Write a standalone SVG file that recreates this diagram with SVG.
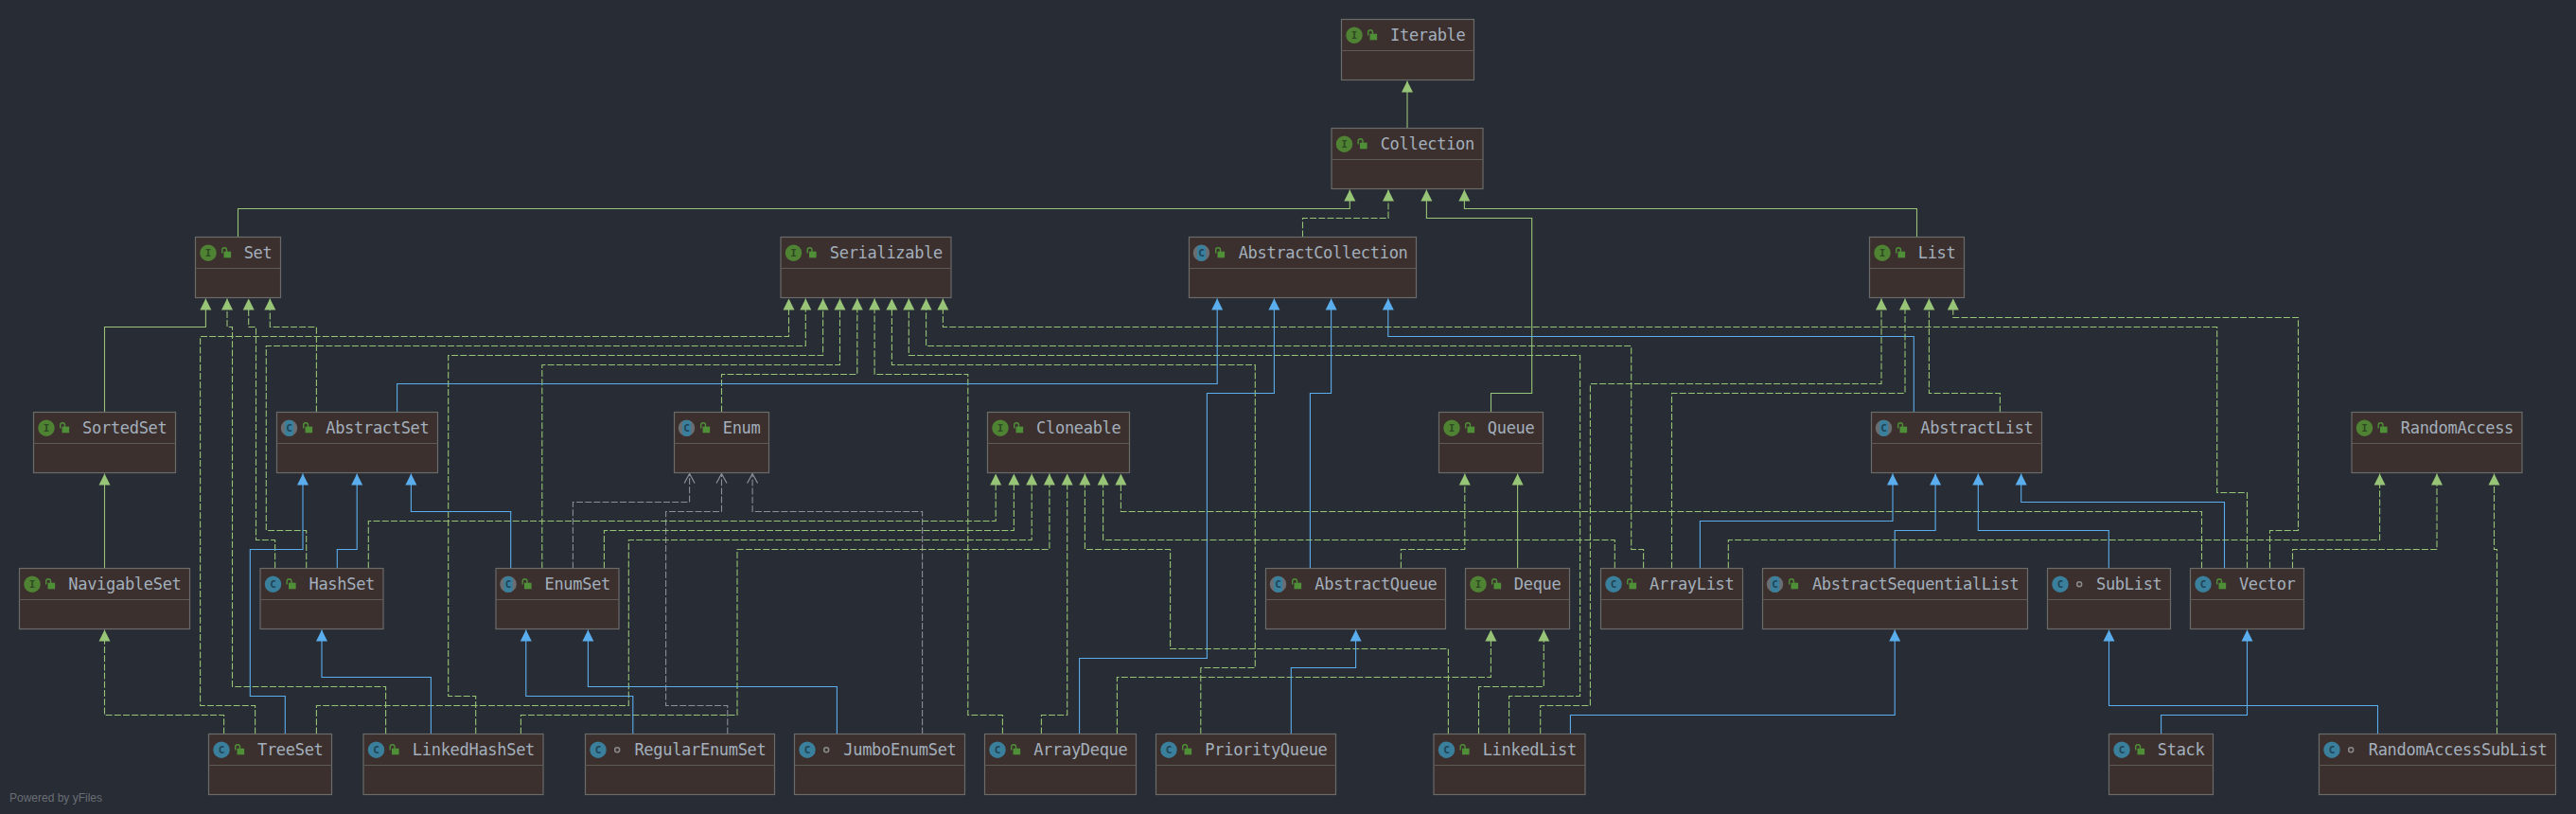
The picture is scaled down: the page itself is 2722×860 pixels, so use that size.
<svg xmlns="http://www.w3.org/2000/svg" width="2722" height="860" viewBox="0 0 2722 860">
<style>
.n{fill:#3b302e;stroke:#6b6b69;stroke-width:1.2}
.l{stroke:#5e5a58;stroke-width:1.2}
.t{font:17px "DejaVu Sans Mono",monospace;letter-spacing:-.3px;fill:#a3afbc;text-anchor:end}
.k{font:bold 11px "DejaVu Sans Mono",monospace;text-anchor:middle}
.ki{fill:#2d4a22}
.kc{fill:#1f4456}
.ci{fill:#4f8333}
.cc{fill:#3a7f9c}
.ca{fill:#6a6e72}
.lk{fill:#4f8f37}
.sh{fill:none;stroke:#4f8f37;stroke-width:1.4}
.dot{fill:none;stroke:#8a8a8a;stroke-width:1.5}
#c path{fill:none;stroke-width:1.1}
#c .s{stroke:#97c476;marker-end:url(#ag)}
#c .d{stroke:#97c476;stroke-dasharray:7 2.2;marker-end:url(#ag)}
#c .b{stroke:#5baeee;marker-end:url(#ab)}
#c .g{stroke:#8a8f98;stroke-dasharray:7 2.2;marker-end:url(#ao)}
.y{font:12px "Liberation Sans",sans-serif;fill:#6a6e74}
</style>
<defs>
<marker id="ag" markerUnits="userSpaceOnUse" markerWidth="13" markerHeight="13" refX="12" refY="6" orient="auto" overflow="visible"><path d="M0 0L12 6L0 12z" fill="#97c476"/></marker>
<marker id="ab" markerUnits="userSpaceOnUse" markerWidth="13" markerHeight="13" refX="12" refY="6" orient="auto" overflow="visible"><path d="M0 0L12 6L0 12z" fill="#5baeee"/></marker>
<marker id="ao" markerUnits="userSpaceOnUse" markerWidth="13" markerHeight="13" refX="11" refY="6" orient="auto" overflow="visible"><path d="M1 0.5L11 6L1 11.5" fill="none" stroke="#8a8f98" stroke-width="1.2"/></marker>
<g id="pub"><rect class="lk" x="30" y="15.2" width="7.6" height="6.6"/><path class="sh" d="M28.2 17V13.6a2.4 2.4 0 0 1 4.8 0V15.5"/></g>
<circle id="pkg" class="dot" cx="33.7" cy="16.7" r="2.5"/>
<circle id="ii" class="ci" cx="13.5" cy="16.7" r="8.7"/>
<circle id="ic" class="cc" cx="13.5" cy="16.7" r="8.7"/>
<g id="ia"><circle class="ca" cx="13" cy="16.7" r="8.7"/><rect x="8.4" y="8.4" width="9.4" height="16.8" rx="3.5" class="cc"/></g>
</defs>
<rect width="2722" height="860" fill="#282c35"/>
<g id="c">
<path class="s" d="M1487 135.5V85.5"/>
<path class="s" d="M110.5 435.5V345.5H217.4V315.5"/>
<path class="d" d="M407.6 775.5V725.5H245.5V345.5H240V315.5"/>
<path class="d" d="M290.6 600.5V570.5H270.5V345.5H262.7V315.5"/>
<path class="d" d="M334.4 435.5V345.5H285.3V315.5"/>
<path class="s" d="M251.5 250.5V220.5H1426.3V200.5"/>
<path class="d" d="M1376.5 250.5V230.5H1467V200.5"/>
<path class="s" d="M1575.5 435.5V415.5H1618.7V230.5H1507.4V200.5"/>
<path class="s" d="M2025.5 250.5V220.5H1547.4V200.5"/>
<path class="d" d="M269.6 775.5V745.5H211.6V355.5H833.5V315.5"/>
<path class="d" d="M323.7 600.5V560.5H281.3V365.5H851.3V315.5"/>
<path class="d" d="M502.7 775.5V735.5H473.7V375.5H869.6V315.5"/>
<path class="d" d="M572.8 600.5V385.5H887.5V315.5"/>
<path class="d" d="M762.5 435.5V395.5H905.8V315.5"/>
<path class="d" d="M1059.4 775.5V755.5H1022.8V395.5H924.1V315.5"/>
<path class="d" d="M1268.8 775.5V705.5H1326.3V385.5H942.4V315.5"/>
<path class="d" d="M1594.6 775.5V735.5H1669.6V375.5H960.3V315.5"/>
<path class="d" d="M1736.6 600.5V580.5H1723.7V365.5H978.6V315.5"/>
<path class="d" d="M2374.5 600.5V520.5H2342.7V345.5H996.4V315.5"/>
<path class="b" d="M419.6 435.5V405.5H1286.2V315.5"/>
<path class="b" d="M1140.6 775.5V695.5H1275.4V415.5H1346.4V315.5"/>
<path class="b" d="M1384.4 600.5V415.5H1406.6V315.5"/>
<path class="b" d="M2022.3 435.5V355.5H1466.8V315.5"/>
<path class="d" d="M1627.7 775.5V745.5H1680.4V405.5H1988V315.5"/>
<path class="d" d="M1766.5 600.5V415.5H2013V315.5"/>
<path class="d" d="M2113.4 435.5V415.5H2038.4V315.5"/>
<path class="d" d="M2398.5 600.5V560.5H2428.5V335.5H2063.8V315.5"/>
<path class="g" d="M768.8 775.5V745.5H703.6V540.5H762.5V500.5"/>
<path class="g" d="M974.6 775.5V540.5H795.1V500.5"/>
<path class="g" d="M605.4 600.5V530.5H728.6V500.5"/>
<path class="d" d="M389.3 600.5V550.5H1052.2V500.5"/>
<path class="d" d="M638.4 600.5V560.5H1071.4V500.5"/>
<path class="d" d="M334.4 775.5V745.5H664.3V570.5H1090.2V500.5"/>
<path class="d" d="M550.4 775.5V755.5H779V580.5H1108.9V500.5"/>
<path class="d" d="M1100.4 775.5V755.5H1127.7V500.5"/>
<path class="d" d="M1530.4 775.5V685.5H1236.6V580.5H1146.4V500.5"/>
<path class="d" d="M1706.3 600.5V570.5H1165.6V500.5"/>
<path class="d" d="M2326.5 600.5V540.5H1184.4V500.5"/>
<path class="d" d="M1480.4 600.5V580.5H1547.8V500.5"/>
<path class="s" d="M1603.6 600.5V500.5"/>
<path class="d" d="M1180.4 775.5V715.5H1575.4V665.5"/>
<path class="d" d="M1562.5 775.5V725.5H1631.3V665.5"/>
<path class="b" d="M1364.3 775.5V705.5H1432.6V665.5"/>
<path class="b" d="M301.3 775.5V735.5H264.3V580.5H320V500.5"/>
<path class="b" d="M356.3 600.5V580.5H377.2V500.5"/>
<path class="b" d="M539.7 600.5V540.5H434.4V500.5"/>
<path class="b" d="M455.4 775.5V715.5H340V665.5"/>
<path class="d" d="M236.6 775.5V755.5H110.5V665.5"/>
<path class="s" d="M110.5 600.5V500.5"/>
<path class="b" d="M668.8 775.5V735.5H555.8V665.5"/>
<path class="b" d="M884.4 775.5V725.5H621.4V665.5"/>
<path class="b" d="M1796.4 600.5V550.5H2000V500.5"/>
<path class="b" d="M2002.2 600.5V560.5H2045.1V500.5"/>
<path class="b" d="M2228.3 600.5V560.5H2090.3V500.5"/>
<path class="b" d="M2350.5 600.5V530.5H2135.7V500.5"/>
<path class="d" d="M1826.3 600.5V570.5H2514.6V500.5"/>
<path class="d" d="M2422.5 600.5V580.5H2575V500.5"/>
<path class="d" d="M2638.5 775.5V580.5H2635.5V500.5"/>
<path class="b" d="M1659.4 775.5V755.5H2002.2V665.5"/>
<path class="b" d="M2512.5 775.5V745.5H2228.5V665.5"/>
<path class="b" d="M2283.6 775.5V755.5H2374.5V665.5"/>
</g>
<g id="Iterable" transform="translate(1417.5 20.5)"><rect class="n" width="140" height="64"/><line class="l" x2="140" y1="33" y2="33"/><use href="#ii"/><text class="k ki" x="13.5" y="20.6">I</text><use href="#pub"/><text class="t" x="131" y="22.5">Iterable</text></g>
<g id="Collection" transform="translate(1407 135.5)"><rect class="n" width="160" height="64"/><line class="l" x2="160" y1="33" y2="33"/><use href="#ii"/><text class="k ki" x="13.5" y="20.6">I</text><use href="#pub"/><text class="t" x="151" y="22.5">Collection</text></g>
<g id="Set" transform="translate(206.5 250.5)"><rect class="n" width="90" height="64"/><line class="l" x2="90" y1="33" y2="33"/><use href="#ii"/><text class="k ki" x="13.5" y="20.6">I</text><use href="#pub"/><text class="t" x="81" y="22.5">Set</text></g>
<g id="Serializable" transform="translate(825 250.5)"><rect class="n" width="180" height="64"/><line class="l" x2="180" y1="33" y2="33"/><use href="#ii"/><text class="k ki" x="13.5" y="20.6">I</text><use href="#pub"/><text class="t" x="171" y="22.5">Serializable</text></g>
<g id="AbstractCollection" transform="translate(1256.5 250.5)"><rect class="n" width="240" height="64"/><line class="l" x2="240" y1="33" y2="33"/><use href="#ia"/><text class="k kc" x="13" y="20.6">C</text><use href="#pub"/><text class="t" x="231" y="22.5">AbstractCollection</text></g>
<g id="List" transform="translate(1975.5 250.5)"><rect class="n" width="100" height="64"/><line class="l" x2="100" y1="33" y2="33"/><use href="#ii"/><text class="k ki" x="13.5" y="20.6">I</text><use href="#pub"/><text class="t" x="91" y="22.5">List</text></g>
<g id="SortedSet" transform="translate(35.5 435.5)"><rect class="n" width="150" height="64"/><line class="l" x2="150" y1="33" y2="33"/><use href="#ii"/><text class="k ki" x="13.5" y="20.6">I</text><use href="#pub"/><text class="t" x="141" y="22.5">SortedSet</text></g>
<g id="AbstractSet" transform="translate(292.5 435.5)"><rect class="n" width="170" height="64"/><line class="l" x2="170" y1="33" y2="33"/><use href="#ia"/><text class="k kc" x="13" y="20.6">C</text><use href="#pub"/><text class="t" x="161" y="22.5">AbstractSet</text></g>
<g id="Enum" transform="translate(712.5 435.5)"><rect class="n" width="100" height="64"/><line class="l" x2="100" y1="33" y2="33"/><use href="#ia"/><text class="k kc" x="13" y="20.6">C</text><use href="#pub"/><text class="t" x="91" y="22.5">Enum</text></g>
<g id="Cloneable" transform="translate(1043.5 435.5)"><rect class="n" width="150" height="64"/><line class="l" x2="150" y1="33" y2="33"/><use href="#ii"/><text class="k ki" x="13.5" y="20.6">I</text><use href="#pub"/><text class="t" x="141" y="22.5">Cloneable</text></g>
<g id="Queue" transform="translate(1520.5 435.5)"><rect class="n" width="110" height="64"/><line class="l" x2="110" y1="33" y2="33"/><use href="#ii"/><text class="k ki" x="13.5" y="20.6">I</text><use href="#pub"/><text class="t" x="101" y="22.5">Queue</text></g>
<g id="AbstractList" transform="translate(1977.5 435.5)"><rect class="n" width="180" height="64"/><line class="l" x2="180" y1="33" y2="33"/><use href="#ia"/><text class="k kc" x="13" y="20.6">C</text><use href="#pub"/><text class="t" x="171" y="22.5">AbstractList</text></g>
<g id="RandomAccess" transform="translate(2485 435.5)"><rect class="n" width="180" height="64"/><line class="l" x2="180" y1="33" y2="33"/><use href="#ii"/><text class="k ki" x="13.5" y="20.6">I</text><use href="#pub"/><text class="t" x="171" y="22.5">RandomAccess</text></g>
<g id="NavigableSet" transform="translate(20.5 600.5)"><rect class="n" width="180" height="64"/><line class="l" x2="180" y1="33" y2="33"/><use href="#ii"/><text class="k ki" x="13.5" y="20.6">I</text><use href="#pub"/><text class="t" x="171" y="22.5">NavigableSet</text></g>
<g id="HashSet" transform="translate(275 600.5)"><rect class="n" width="130" height="64"/><line class="l" x2="130" y1="33" y2="33"/><use href="#ic"/><text class="k kc" x="13.5" y="20.6">C</text><use href="#pub"/><text class="t" x="121" y="22.5">HashSet</text></g>
<g id="EnumSet" transform="translate(524 600.5)"><rect class="n" width="130" height="64"/><line class="l" x2="130" y1="33" y2="33"/><use href="#ia"/><text class="k kc" x="13" y="20.6">C</text><use href="#pub"/><text class="t" x="121" y="22.5">EnumSet</text></g>
<g id="AbstractQueue" transform="translate(1337.5 600.5)"><rect class="n" width="190" height="64"/><line class="l" x2="190" y1="33" y2="33"/><use href="#ia"/><text class="k kc" x="13" y="20.6">C</text><use href="#pub"/><text class="t" x="181" y="22.5">AbstractQueue</text></g>
<g id="Deque" transform="translate(1548.5 600.5)"><rect class="n" width="110" height="64"/><line class="l" x2="110" y1="33" y2="33"/><use href="#ii"/><text class="k ki" x="13.5" y="20.6">I</text><use href="#pub"/><text class="t" x="101" y="22.5">Deque</text></g>
<g id="ArrayList" transform="translate(1691.5 600.5)"><rect class="n" width="150" height="64"/><line class="l" x2="150" y1="33" y2="33"/><use href="#ic"/><text class="k kc" x="13.5" y="20.6">C</text><use href="#pub"/><text class="t" x="141" y="22.5">ArrayList</text></g>
<g id="AbstractSequentialList" transform="translate(1862.5 600.5)"><rect class="n" width="280" height="64"/><line class="l" x2="280" y1="33" y2="33"/><use href="#ia"/><text class="k kc" x="13" y="20.6">C</text><use href="#pub"/><text class="t" x="271" y="22.5">AbstractSequentialList</text></g>
<g id="SubList" transform="translate(2163.5 600.5)"><rect class="n" width="130" height="64"/><line class="l" x2="130" y1="33" y2="33"/><use href="#ic"/><text class="k kc" x="13.5" y="20.6">C</text><use href="#pkg"/><text class="t" x="121" y="22.5">SubList</text></g>
<g id="Vector" transform="translate(2314.5 600.5)"><rect class="n" width="120" height="64"/><line class="l" x2="120" y1="33" y2="33"/><use href="#ic"/><text class="k kc" x="13.5" y="20.6">C</text><use href="#pub"/><text class="t" x="111" y="22.5">Vector</text></g>
<g id="TreeSet" transform="translate(220.5 775.5)"><rect class="n" width="130" height="64"/><line class="l" x2="130" y1="33" y2="33"/><use href="#ic"/><text class="k kc" x="13.5" y="20.6">C</text><use href="#pub"/><text class="t" x="121" y="22.5">TreeSet</text></g>
<g id="LinkedHashSet" transform="translate(384 775.5)"><rect class="n" width="190" height="64"/><line class="l" x2="190" y1="33" y2="33"/><use href="#ic"/><text class="k kc" x="13.5" y="20.6">C</text><use href="#pub"/><text class="t" x="181" y="22.5">LinkedHashSet</text></g>
<g id="RegularEnumSet" transform="translate(618.5 775.5)"><rect class="n" width="200" height="64"/><line class="l" x2="200" y1="33" y2="33"/><use href="#ic"/><text class="k kc" x="13.5" y="20.6">C</text><use href="#pkg"/><text class="t" x="191" y="22.5">RegularEnumSet</text></g>
<g id="JumboEnumSet" transform="translate(839.5 775.5)"><rect class="n" width="180" height="64"/><line class="l" x2="180" y1="33" y2="33"/><use href="#ic"/><text class="k kc" x="13.5" y="20.6">C</text><use href="#pkg"/><text class="t" x="171" y="22.5">JumboEnumSet</text></g>
<g id="ArrayDeque" transform="translate(1040.5 775.5)"><rect class="n" width="160" height="64"/><line class="l" x2="160" y1="33" y2="33"/><use href="#ic"/><text class="k kc" x="13.5" y="20.6">C</text><use href="#pub"/><text class="t" x="151" y="22.5">ArrayDeque</text></g>
<g id="PriorityQueue" transform="translate(1221.5 775.5)"><rect class="n" width="190" height="64"/><line class="l" x2="190" y1="33" y2="33"/><use href="#ic"/><text class="k kc" x="13.5" y="20.6">C</text><use href="#pub"/><text class="t" x="181" y="22.5">PriorityQueue</text></g>
<g id="LinkedList" transform="translate(1515 775.5)"><rect class="n" width="160" height="64"/><line class="l" x2="160" y1="33" y2="33"/><use href="#ic"/><text class="k kc" x="13.5" y="20.6">C</text><use href="#pub"/><text class="t" x="151" y="22.5">LinkedList</text></g>
<g id="Stack" transform="translate(2228.5 775.5)"><rect class="n" width="110" height="64"/><line class="l" x2="110" y1="33" y2="33"/><use href="#ic"/><text class="k kc" x="13.5" y="20.6">C</text><use href="#pub"/><text class="t" x="101" y="22.5">Stack</text></g>
<g id="RandomAccessSubList" transform="translate(2450.5 775.5)"><rect class="n" width="250" height="64"/><line class="l" x2="250" y1="33" y2="33"/><use href="#ic"/><text class="k kc" x="13.5" y="20.6">C</text><use href="#pkg"/><text class="t" x="241" y="22.5">RandomAccessSubList</text></g>
<text class="y" x="10" y="847">Powered by yFiles</text>
</svg>
